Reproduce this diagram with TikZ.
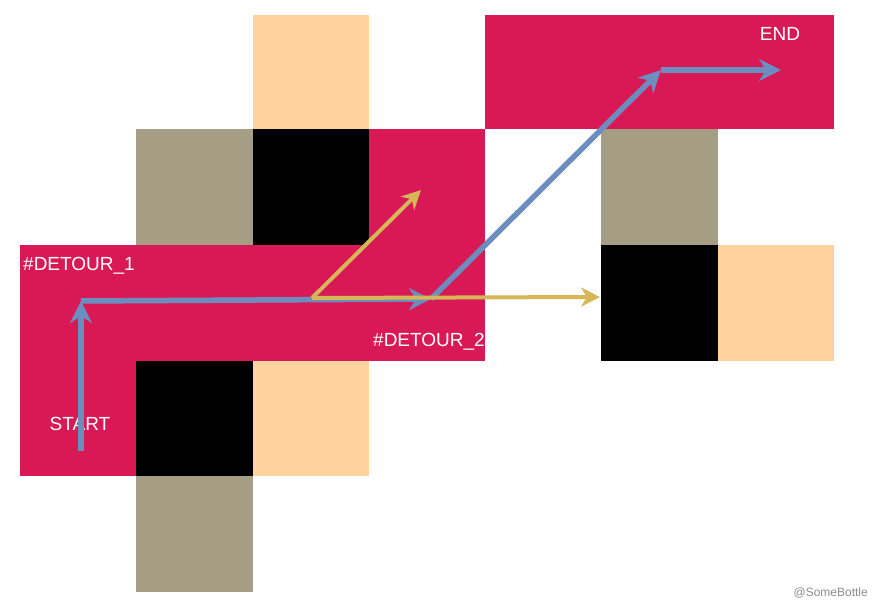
\documentclass[tikz,border=0pt]{standalone}
\usepackage{fontspec}
\setmainfont{Liberation Sans}
\usetikzlibrary{arrows.meta}
\definecolor{crim}{RGB}{216,25,86}
\definecolor{peach}{RGB}{255,210,158}
\definecolor{khaki}{RGB}{165,157,132}
\definecolor{bluel}{RGB}{108,142,191}
\definecolor{yell}{RGB}{214,182,86}
\tikzset{
  lbl/.style={text=white, font=\fontsize{19}{19}\selectfont, inner sep=0pt},
  bluearr/.style={draw=bluel, line width=5.5pt, -{Stealth[length=22pt,width=22pt,inset=7pt]}},
  yelarr/.style={draw=yell, line width=4pt, -{Stealth[length=19pt,width=19pt,inset=6pt]}},
}
\begin{document}
\begin{tikzpicture}[x=1pt,y=-1pt]
\useasboundingbox (0,0) rectangle (872,609);
% row 1
\fill[peach] (253,15) rectangle (369,129);
\fill[crim] (485,15) rectangle (834,129);
% row 2
\fill[khaki] (136,129) rectangle (253,245);
\fill[black] (253,129) rectangle (369,245);
\fill[crim] (369,129) rectangle (485,245);
\fill[khaki] (601,129) rectangle (718,245);
% row 3
\fill[crim] (20,245) rectangle (485,361);
\fill[black] (601,245) rectangle (718,361);
\fill[peach] (718,245) rectangle (834,361);
% row 4
\fill[crim] (20,361) rectangle (136,476);
\fill[black] (136,361) rectangle (253,476);
\fill[peach] (253,361) rectangle (369,476);
% row 5
\fill[khaki] (136,476) rectangle (253,592);

% labels
\node[lbl, anchor=west] (d1) at (23,266) {\#DETOUR\_1};
\node[lbl] (st) at (80,424) {START};
\node[lbl, anchor=west] (d2) at (373,342) {\#DETOUR\_2};
\node[lbl] (en) at (780,34) {END};
\node[font=\fontsize{12}{12}\selectfont, text=black!45, anchor=east, inner sep=0pt] (sig) at (868,593) {@SomeBottle};

% path coordinates
\coordinate (s) at (81,451);
\coordinate (c1) at (81,301);
\coordinate (c2) at (431,299);
\coordinate (c3) at (661,70);
\coordinate (e) at (781,70);
\coordinate (y0) at (312,298);
\coordinate (y1) at (421,190);
\coordinate (y2) at (600,297);

% blue arrows
\draw[bluearr] (s) -- (c1);
\draw[bluearr] (c1) -- (c2);
\draw[bluearr] (c2) -- (c3);
\draw[bluearr] (c3) -- (e);
% yellow arrows (on top)
\draw[yelarr] (y0) -- (y1);
\draw[yelarr] (y0) -- (y2);
\end{tikzpicture}
\end{document}
